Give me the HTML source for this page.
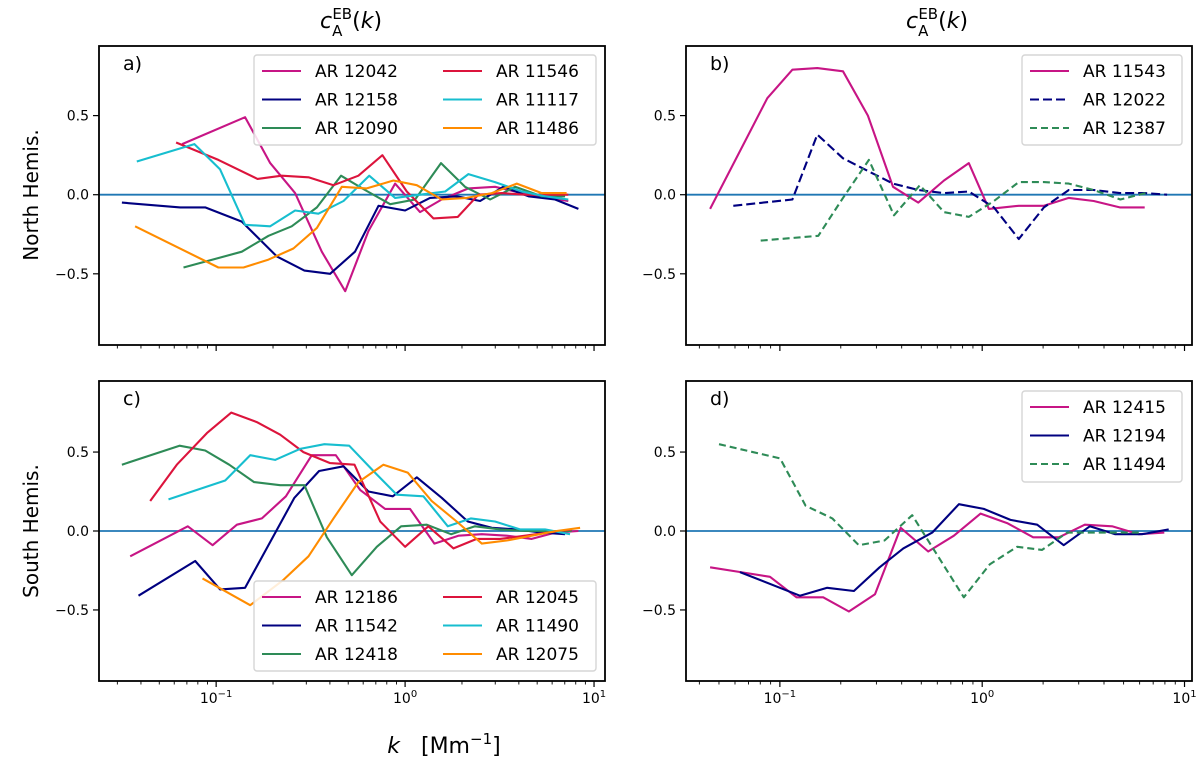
<!DOCTYPE html>
<html><head><meta charset="utf-8"><style>
html,body{margin:0;padding:0;background:#fff;}
svg{display:block;font-family:"DejaVu Sans","Liberation Sans",sans-serif;}
</style></head><body>
<svg id="fig" width="1200" height="767" viewBox="0 0 1200 767" xmlns="http://www.w3.org/2000/svg">
<text x="351" y="28" font-size="22" text-anchor="middle"><tspan font-style="italic">c</tspan><tspan font-size="15" dy="8">A</tspan><tspan font-size="15" dx="-10" dy="-17">EB</tspan><tspan dy="9">(</tspan><tspan font-style="italic">k</tspan>)</text>
<text x="937" y="28" font-size="22" text-anchor="middle"><tspan font-style="italic">c</tspan><tspan font-size="15" dy="8">A</tspan><tspan font-size="15" dx="-10" dy="-17">EB</tspan><tspan dy="9">(</tspan><tspan font-style="italic">k</tspan>)</text>
<text transform="translate(38,195) rotate(-90)" font-size="20" text-anchor="middle">North Hemis.</text>
<text transform="translate(38,531) rotate(-90)" font-size="20" text-anchor="middle">South Hemis.</text>
<text x="444" y="753" font-size="22" text-anchor="middle" xml:space="preserve"><tspan font-style="italic">k</tspan>   [Mm<tspan font-size="15" dy="-9">−1</tspan><tspan dy="9">]</tspan></text>
</svg>
<script>
// Panel a (North, left)
const aNames=["AR 12042","AR 12158","AR 12090","AR 11546","AR 11117","AR 11486"];
const aLogK_12042=[-1.18,-0.847,-0.714,-0.582,-0.441,-0.317,-0.194,-0.053,0.079,0.194,0.335,0.476,0.617,0.758,0.864];
const aVal_12042=[0.32,0.49,0.20,0.01,-0.36,-0.61,-0.23,0.07,-0.11,-0.03,0.04,0.05,0.01,-0.02,-0.04];
const aLogK_12158=[-1.499,-1.190,-1.058,-0.864,-0.679,-0.533,-0.397,-0.265,-0.141,0,0.132,0.273,0.397,0.520,0.653,0.794,0.917];
const aVal_12158=[-0.05,-0.08,-0.08,-0.17,-0.39,-0.48,-0.50,-0.36,-0.07,-0.10,-0.02,-0.01,-0.04,0.05,-0.01,-0.03,-0.09];
const aLogK_12090=[-1.173,-0.864,-0.723,-0.600,-0.467,-0.339,-0.212,-0.079,0.053,0.190,0.317,0.450,0.582,0.723,0.847];
const aVal_12090=[-0.46,-0.36,-0.26,-0.20,-0.08,0.12,0.03,-0.06,-0.03,0.20,0.05,-0.03,0.05,-0.01,-0.01];
const aLogK_11546=[-1.212,-0.988,-0.781,-0.653,-0.511,-0.379,-0.247,-0.120,0.009,0.150,0.279,0.388,0.511,0.635,0.758,0.864];
const aVal_11546=[0.33,0.22,0.10,0.12,0.11,0.06,0.12,0.25,0.02,-0.15,-0.14,0.00,0.01,0.00,0.00,0.00];
const aLogK_11117=[-1.420,-1.115,-0.979,-0.847,-0.714,-0.582,-0.459,-0.326,-0.190,-0.053,0.079,0.212,0.335,0.476,0.617,0.741,0.864];
const aVal_11117=[0.21,0.32,0.16,-0.19,-0.20,-0.10,-0.12,-0.04,0.12,-0.02,0.00,0.02,0.13,0.08,0.02,-0.01,-0.03];
const aLogK_11486=[-1.429,-0.988,-0.855,-0.723,-0.591,-0.467,-0.335,-0.203,-0.062,0.062,0.194,0.326,0.459,0.591,0.723,0.855];
const aVal_11486=[-0.20,-0.46,-0.46,-0.41,-0.34,-0.21,0.05,0.04,0.09,0.06,-0.03,-0.02,0.01,0.07,0.01,0.01];
// Panel b (North, right)
const bNames=["AR 11543","AR 12022","AR 12387"];
const bLogK_11543=[-1.345,-1.062,-0.938,-0.815,-0.688,-0.565,-0.441,-0.316,-0.189,-0.066,0.033,0.181,0.305,0.428,0.551,0.680,0.803];
const bVal_11543=[-0.09,0.61,0.79,0.80,0.78,0.50,0.05,-0.05,0.09,0.20,-0.09,-0.07,-0.07,-0.02,-0.04,-0.08,-0.08];
const bLogK_12022=[-1.230,-0.938,-0.815,-0.688,-0.565,-0.441,-0.316,-0.189,-0.066,0.058,0.181,0.305,0.428,0.551,0.680,0.803,0.914];
const bVal_12022=[-0.07,-0.03,0.38,0.23,0.15,0.07,0.03,0.01,0.02,-0.08,-0.28,-0.08,0.03,0.03,0.01,0.01,0.00];
const bLogK_12387=[-1.095,-0.810,-0.688,-0.560,-0.436,-0.308,-0.189,-0.066,0.058,0.181,0.305,0.428,0.551,0.683,0.807];
const bVal_12387=[-0.29,-0.26,-0.02,0.22,-0.13,0.06,-0.11,-0.14,-0.04,0.08,0.08,0.07,0.03,-0.03,0.01];
// Panel c (South, left)
const cNames=["AR 12186","AR 11542","AR 12418","AR 12045","AR 11490","AR 12075"];
const cLogK_12186=[-1.455,-1.150,-1.019,-0.890,-0.758,-0.631,-0.494,-0.367,-0.238,-0.106,0.026,0.155,0.282,0.406,0.538,0.670,0.794,0.917];
const cVal_12186=[-0.16,0.03,-0.09,0.04,0.08,0.22,0.48,0.48,0.26,0.14,0.14,-0.08,-0.03,-0.02,-0.03,-0.05,-0.01,0.00];
const cLogK_11542=[-1.411,-1.111,-0.979,-0.847,-0.586,-0.455,-0.326,-0.194,-0.065,0.062,0.194,0.332,0.459,0.591,0.723,0.847];
const cVal_11542=[-0.41,-0.19,-0.37,-0.36,0.21,0.38,0.41,0.25,0.22,0.34,0.21,0.06,0.02,0.01,-0.01,-0.02];
const cLogK_12418=[-1.499,-1.194,-1.058,-0.931,-0.799,-0.661,-0.533,-0.414,-0.282,-0.150,-0.021,0.115,0.243,0.370,0.503,0.635,0.758,0.882];
const cVal_12418=[0.42,0.54,0.51,0.42,0.31,0.29,0.29,-0.04,-0.28,-0.10,0.03,0.04,-0.02,0.03,0.01,0.00,0.00,0.00];
const cLogK_12045=[-1.349,-1.208,-1.049,-0.920,-0.785,-0.661,-0.538,-0.397,-0.268,-0.132,0,0.123,0.256,0.379,0.503,0.635,0.758,0.882];
const cVal_12045=[0.19,0.42,0.62,0.75,0.69,0.61,0.50,0.43,0.42,0.06,-0.10,0.03,-0.11,-0.05,-0.05,-0.03,-0.01,0.01];
const cLogK_11490=[-1.252,-0.952,-0.820,-0.688,-0.556,-0.427,-0.296,-0.168,-0.044,0.097,0.226,0.349,0.476,0.608,0.741,0.873];
const cVal_11490=[0.20,0.32,0.48,0.45,0.52,0.55,0.54,0.38,0.23,0.22,0.03,0.08,0.06,0.01,0.01,-0.02];
const cLogK_12075=[-1.072,-0.820,-0.644,-0.511,-0.379,-0.247,-0.115,0.014,0.141,0.273,0.406,0.538,0.670,0.802,0.926];
const cVal_12075=[-0.30,-0.47,-0.31,-0.16,0.08,0.31,0.42,0.37,0.19,0.06,-0.08,-0.06,-0.03,0.00,0.02];
// Panel d (South, right)
const dNames=["AR 12415","AR 12194","AR 11494"];
const dLogK_12415=[-1.345,-1.194,-1.049,-0.918,-0.786,-0.659,-0.530,-0.403,-0.267,-0.140,-0.008,0.123,0.252,0.379,0.507,0.642,0.774,0.900];
const dVal_12415=[-0.23,-0.26,-0.29,-0.42,-0.42,-0.51,-0.40,0.02,-0.13,-0.03,0.11,0.05,-0.04,-0.04,0.04,0.03,-0.02,-0.01];
const dLogK_12194=[-1.197,-0.901,-0.766,-0.634,-0.507,-0.390,-0.247,-0.115,0.008,0.140,0.272,0.403,0.532,0.658,0.790,0.922];
const dVal_12194=[-0.26,-0.41,-0.36,-0.38,-0.23,-0.11,-0.01,0.17,0.14,0.07,0.04,-0.09,0.03,-0.02,-0.02,0.01];
const dLogK_11494=[-1.301,-0.999,-0.873,-0.741,-0.610,-0.483,-0.346,-0.091,0.038,0.173,0.296,0.420,0.543,0.670,0.790];
const dVal_11494=[0.55,0.46,0.16,0.08,-0.09,-0.06,0.10,-0.42,-0.21,-0.10,-0.12,-0.01,-0.01,-0.01,-0.01];

const yTicks=[-0.5,0,0.5];
const yTickLabels=["−0.5","0.0","0.5"];
const xMajor=[-1,0,1];

const NS="http://www.w3.org/2000/svg";
const svg=document.getElementById('fig');
function el(tag,attrs,parent){const e=document.createElementNS(NS,tag);for(const k in attrs)e.setAttribute(k,attrs[k]);(parent||svg).appendChild(e);return e;}

const C={mag:"#c71585",navy:"#000080",green:"#2e8b57",red:"#dc143c",cyan:"#17becf",orange:"#ff8c00"};

function panel(cfg){
  const {x0,x1,y0,y1,lmin,lmax,vmin,vmax,letter,showX,series,legend,id}=cfg;
  const g=el('g',{});
  
  
  const X=l=>x0+(l-lmin)/(lmax-lmin)*(x1-x0);
  const Y=v=>y1-(v-vmin)/(vmax-vmin)*(y1-y0);
  const clip=el('clipPath',{id:'clip'+id},g);
  el('rect',{x:x0,y:y0,width:x1-x0,height:y1-y0},clip);
  const z=el('line',{x1:x0,x2:x1,y1:Y(0),y2:Y(0),stroke:"#1f77b4","stroke-width":1.8},g);
  
  
  series.forEach(s=>{
    const pts=s.lk.map((l,i)=>X(l).toFixed(1)+','+Y(s.v[i]).toFixed(1)).join(' ');
    const p=el('polyline',{points:pts,fill:'none',stroke:s.c,'stroke-width':2.1,'clip-path':'url(#clip'+id+')','stroke-linejoin':'round'},g);
    if(s.dash)p.setAttribute('stroke-dasharray',s.dash);
    
    
  });
  for(let d=Math.floor(lmin);d<=Math.ceil(lmax);d++){
    for(let m=1;m<10;m++){
      const l=d+Math.log10(m);
      if(l<lmin||l>lmax)continue;
      const xx=X(l);
      el('line',{x1:xx,x2:xx,y1:y1,y2:y1+(m===1?6:3.5),stroke:'#000','stroke-width':m===1?1.2:0.9},g);
    }
  }
  if(showX){
    xMajor.forEach(d=>{
      const xx=X(d);
      const t=el('text',{x:xx,y:y1+22,'font-size':14,'text-anchor':'middle'},g);
      t.innerHTML='10<tspan font-size="10" dy="-6">'+(d<0?'−'+(-d):d)+'</tspan>';
      
      
    });
  }
  yTicks.forEach((v,i)=>{
    const yy=Y(v);
    el('line',{x1:x0-6,x2:x0,y1:yy,y2:yy,stroke:'#000','stroke-width':1.2},g);
    const t=el('text',{x:x0-10,y:yy+5,'font-size':14,'text-anchor':'end'},g);
    t.textContent=yTickLabels[i];
    
    
  });
  const fr=el('rect',{x:x0,y:y0,width:x1-x0,height:y1-y0,fill:'none',stroke:'#000','stroke-width':1.8},g);
  
  
  const lt=el('text',{x:x0+24,y:y0+24,'font-size':19},g);
  lt.textContent=letter;
  
  
  const lg=el('g',{},g);
  
  
  el('rect',{x:legend.x,y:legend.y,width:legend.w,height:legend.h,rx:3,fill:'#fff','fill-opacity':0.85,stroke:'#d5d5d5','stroke-width':1.4},lg);
  series.forEach((s,i)=>{
    const col=Math.floor(i/legend.rows),row=i%legend.rows;
    const lx=legend.x+8+col*legend.colw, ly=legend.y+16+row*28.5;
    const ln=el('line',{x1:lx,x2:lx+39,y1:ly,y2:ly,stroke:s.c,'stroke-width':2.1},lg);
    if(s.dash)ln.setAttribute('stroke-dasharray',s.dash);
    const t=el('text',{x:lx+53,y:ly+6,'font-size':17},lg);
    t.textContent=s.n;
    
    
  });
}

const la={lmin:-1.62,lmax:1.058}, lb={lmin:-1.464,lmax:1.037};
panel({id:'a',x0:99,x1:605,y0:46,y1:345,lmin:la.lmin,lmax:la.lmax,vmin:-0.95,vmax:0.94,letter:'a)',showX:false,
 legend:{x:254,y:55,w:342,h:90,rows:3,colw:181},
 series:[{n:aNames[0],lk:aLogK_12042,v:aVal_12042,c:C.mag},{n:aNames[1],lk:aLogK_12158,v:aVal_12158,c:C.navy},{n:aNames[2],lk:aLogK_12090,v:aVal_12090,c:C.green},
 {n:aNames[3],lk:aLogK_11546,v:aVal_11546,c:C.red},{n:aNames[4],lk:aLogK_11117,v:aVal_11117,c:C.cyan},{n:aNames[5],lk:aLogK_11486,v:aVal_11486,c:C.orange}]});
panel({id:'b',x0:686,x1:1192,y0:46,y1:345,lmin:lb.lmin,lmax:lb.lmax,vmin:-0.95,vmax:0.94,letter:'b)',showX:false,
 legend:{x:1022,y:55,w:160,h:90,rows:3,colw:0},
 series:[{n:bNames[0],lk:bLogK_11543,v:bVal_11543,c:C.mag},{n:bNames[1],lk:bLogK_12022,v:bVal_12022,c:C.navy,dash:'9,4'},{n:bNames[2],lk:bLogK_12387,v:bVal_12387,c:C.green,dash:'7,4'}]});
panel({id:'c',x0:99,x1:605,y0:381,y1:681,lmin:la.lmin,lmax:la.lmax,vmin:-0.95,vmax:0.95,letter:'c)',showX:true,
 legend:{x:254,y:581,w:342,h:90,rows:3,colw:181},
 series:[{n:cNames[0],lk:cLogK_12186,v:cVal_12186,c:C.mag},{n:cNames[1],lk:cLogK_11542,v:cVal_11542,c:C.navy},{n:cNames[2],lk:cLogK_12418,v:cVal_12418,c:C.green},
 {n:cNames[3],lk:cLogK_12045,v:cVal_12045,c:C.red},{n:cNames[4],lk:cLogK_11490,v:cVal_11490,c:C.cyan},{n:cNames[5],lk:cLogK_12075,v:cVal_12075,c:C.orange}]});
panel({id:'d',x0:686,x1:1192,y0:381,y1:681,lmin:lb.lmin,lmax:lb.lmax,vmin:-0.95,vmax:0.95,letter:'d)',showX:true,
 legend:{x:1022,y:391,w:160,h:91,rows:3,colw:0},
 series:[{n:dNames[0],lk:dLogK_12415,v:dVal_12415,c:C.mag},{n:dNames[1],lk:dLogK_12194,v:dVal_12194,c:C.navy},{n:dNames[2],lk:dLogK_11494,v:dVal_11494,c:C.green,dash:'7,4'}]});
</script>
</body></html>
